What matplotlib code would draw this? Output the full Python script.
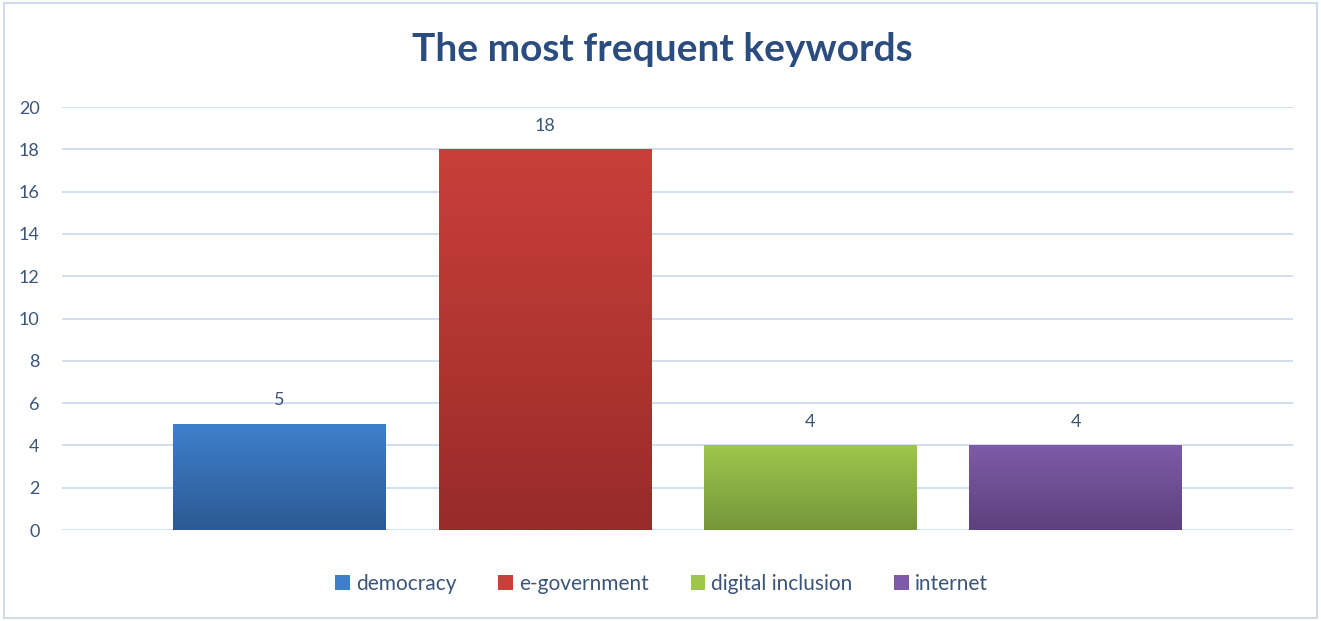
import matplotlib.pyplot as plt
import matplotlib as mpl
import numpy as np
from matplotlib.patches import Patch, Rectangle

mpl.rcParams['font.family'] = ['Lato', 'DejaVu Sans']

keywords = ["democracy", "e-government", "digital inclusion", "internet"]
counts = [5, 18, 4, 4]
top_colors = ["#3E7FCC", "#CA3F3A", "#9EC64C", "#7E5BA8"]
bottom_colors = ["#2C5A93", "#982B29", "#76963A", "#5C417D"]

text_color = "#3A5579"
grid_color = "#C9D9F0"


def hex_rgb(h):
    return np.array(mpl.colors.to_rgb(h))


def gradient_bar(ax, bar, top, bottom):
    x0, y0 = bar.get_x(), bar.get_y()
    w, h = bar.get_width(), bar.get_height()
    t = np.linspace(0, 1, 256)[:, None]
    img = hex_rgb(top) * (1 - t) + hex_rgb(bottom) * t
    img = img[:, None, :]
    im = ax.imshow(img, extent=(x0, x0 + w, y0, y0 + h), origin='upper',
                   aspect='auto', zorder=3)
    im.set_clip_path(bar)
    bar.set_facecolor('none')


fig = plt.figure(figsize=(13.21, 6.21), dpi=100)
fig.patches.append(Rectangle((0.003, 0.005), 0.994, 0.99, transform=fig.transFigure,
                             fill=False, edgecolor="#D0DCEA", linewidth=1.5))
ax = fig.add_axes([0.0469, 0.1465, 0.932, 0.681])

x = np.arange(len(keywords))
bars = ax.bar(x, counts, width=0.8, zorder=3, edgecolor='none')
for b, tc, bc in zip(bars, top_colors, bottom_colors):
    gradient_bar(ax, b, tc, bc)

for xi, v in zip(x, counts):
    ax.text(xi, v + 0.75, str(v), ha='center', va='bottom', fontsize=13,
            color=text_color)

ax.set_xlim(-0.82, 3.82)
ax.set_ylim(0, 20)
ax.set_yticks(range(0, 21, 2))
ax.set_xticks([])
ax.yaxis.grid(True, color=grid_color, linewidth=1.2, zorder=0)
ax.set_axisbelow(True)
for s in ax.spines.values():
    s.set_visible(False)
ax.tick_params(axis='y', length=0, pad=16, labelsize=13, labelcolor=text_color)
for lbl in ax.get_yticklabels():
    lbl.set_horizontalalignment('right')

fig.text(0.501, 0.92, "The most frequent keywords", ha='center', va='center',
         fontsize=28, fontweight='bold', color="#2B4C7E")

handles = [Patch(facecolor=c, edgecolor='none') for c in top_colors]
fig.legend(handles, keywords, loc='center', bbox_to_anchor=(0.501, 0.06), ncol=4,
           frameon=False, fontsize=15, handlelength=0.7, handleheight=0.7,
           handletextpad=0.3, columnspacing=2.0, labelcolor=text_color)

fig.savefig("out.png", dpi=100)
